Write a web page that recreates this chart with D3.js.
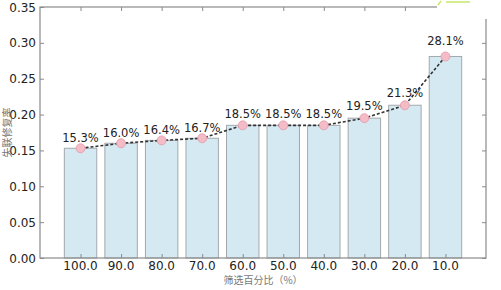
<!DOCTYPE html>
<html>
<head>
<meta charset="utf-8">
<script src="https://cdn.jsdelivr.net/npm/d3@7"></script>
<style>
  body { margin: 0; background: #fff; }
  text { font-family: "DejaVu Sans", sans-serif; }
</style>
</head>
<body>
<svg id="chart" width="501" height="290"></svg>
<script>
// data
var categories = ["100.0", "90.0", "80.0", "70.0", "60.0", "50.0", "40.0", "30.0", "20.0", "10.0"];
var rates = [0.153, 0.160, 0.164, 0.167, 0.185, 0.185, 0.185, 0.195, 0.213, 0.281];
var rateLabels = ["15.3%", "16.0%", "16.4%", "16.7%", "18.5%", "18.5%", "18.5%", "19.5%", "21.3%", "28.1%"];
var yTicks = [0, 0.05, 0.10, 0.15, 0.20, 0.25, 0.30, 0.35];

var svg = d3.select("#chart");
var plotL = 40, plotR = 486, plotT = 7, plotB = 258;

// ---------------------------//
//       AXIS  AND SCALE      //
// ---------------------------//
var x = d3.scaleLinear().domain([-1, categories.length]).range([plotL, plotR]);
var y = d3.scaleLinear().domain([0, 0.35]).range([plotB, plotT]);
var barW = (x(1) - x(0)) * 0.8;

// bars
svg.append("g")
  .selectAll("rect")
  .data(rates)
  .enter()
  .append("rect")
  .attr("x", function(d, i) { return x(i) - barW / 2; })
  .attr("y", function(d) { return y(d); })
  .attr("width", barW)
  .attr("height", function(d) { return y(0) - y(d); })
  .style("fill", "#d5e9f3")
  .style("stroke", "#a3a9ad")
  .style("stroke-width", 1);

// frame
svg.append("rect")
  .attr("x", plotL).attr("y", plotT)
  .attr("width", plotR - plotL).attr("height", plotB - plotT)
  .style("fill", "none")
  .style("stroke", "#8a8a8a")
  .style("stroke-width", 1.2);

// y ticks (inside, left and right)
svg.append("g").attr("transform", "translate(" + plotL + ",0)")
  .call(d3.axisRight(y).tickValues(yTicks).tickSize(4).tickFormat(""));
svg.append("g").attr("transform", "translate(" + plotR + ",0)")
  .call(d3.axisLeft(y).tickValues(yTicks).tickSize(4).tickFormat(""));
// x ticks (inside, bottom and top)
svg.append("g").attr("transform", "translate(0," + plotB + ")")
  .call(d3.axisTop(x).tickValues(d3.range(categories.length)).tickSize(4).tickFormat(""));
svg.append("g").attr("transform", "translate(0," + plotT + ")")
  .call(d3.axisBottom(x).tickValues(d3.range(categories.length)).tickSize(4).tickFormat(""));
svg.selectAll(".domain").remove();
svg.selectAll(".tick line").attr("stroke", "#8a8a8a");

// tick labels
svg.append("g")
  .selectAll("text")
  .data(yTicks)
  .enter()
  .append("text")
  .attr("x", plotL - 4)
  .attr("y", function(d) { return y(d) + 4.5; })
  .attr("text-anchor", "end")
  .style("font-size", "12px")
  .style("fill", "#222")
  .text(function(d) { return d3.format(".2f")(d); });

svg.append("g")
  .selectAll("text")
  .data(categories)
  .enter()
  .append("text")
  .attr("x", function(d, i) { return x(i); })
  .attr("y", plotB + 12)
  .attr("text-anchor", "middle")
  .style("font-size", "12px")
  .style("fill", "#222")
  .text(function(d) { return d; });

// axis labels
svg.append("text")
  .attr("x", (plotL + plotR) / 2)
  .attr("y", 284)
  .attr("text-anchor", "middle")
  .style("font-size", "10px")
  .style("font-family", "Noto Sans CJK SC")
  .style("fill", "#777")
  .text("筛选百分比（%）");

svg.append("text")
  .attr("transform", "translate(10.5," + (plotT + plotB) / 2 + ") rotate(-90)")
  .attr("text-anchor", "middle")
  .style("font-size", "10px")
  .style("font-family", "Noto Sans CJK SC")
  .style("fill", "#777")
  .text("失联修复率");

// ---------------------------//
//       LINE AND POINTS      //
// ---------------------------//
var line = d3.line()
  .x(function(d, i) { return x(i); })
  .y(function(d) { return y(d); });

svg.append("path")
  .datum(rates)
  .attr("d", line)
  .style("fill", "none")
  .style("stroke", "#333")
  .style("stroke-width", 1.6)
  .style("stroke-dasharray", "3,2");

svg.append("g")
  .selectAll("circle")
  .data(rates)
  .enter()
  .append("circle")
  .attr("cx", function(d, i) { return x(i); })
  .attr("cy", function(d) { return y(d); })
  .attr("r", 4.5)
  .style("fill", "#f3bcc6")
  .style("stroke", "#e39aa8")
  .style("stroke-width", 0.8);

// value labels sit a little above each point (proportional to value)
svg.append("g")
  .selectAll("text")
  .data(rates)
  .enter()
  .append("text")
  .attr("x", function(d, i) { return x(i); })
  .attr("y", function(d) { return y(d * 1.055); })
  .attr("text-anchor", "middle")
  .style("font-size", "11.5px")
  .style("fill", "#222")
  .text(function(d, i) { return rateLabels[i]; });

// watermark patch at top right
svg.append("rect")
  .attr("x", 437).attr("y", 0).attr("width", 64).attr("height", 19)
  .style("fill", "#fff");
svg.append("path")
  .attr("d", "M438,5 L441,1 M446,2 L470,2")
  .style("stroke", "#c8e86a")
  .style("stroke-width", 1.5)
  .style("fill", "none");
</script>
</body>
</html>
